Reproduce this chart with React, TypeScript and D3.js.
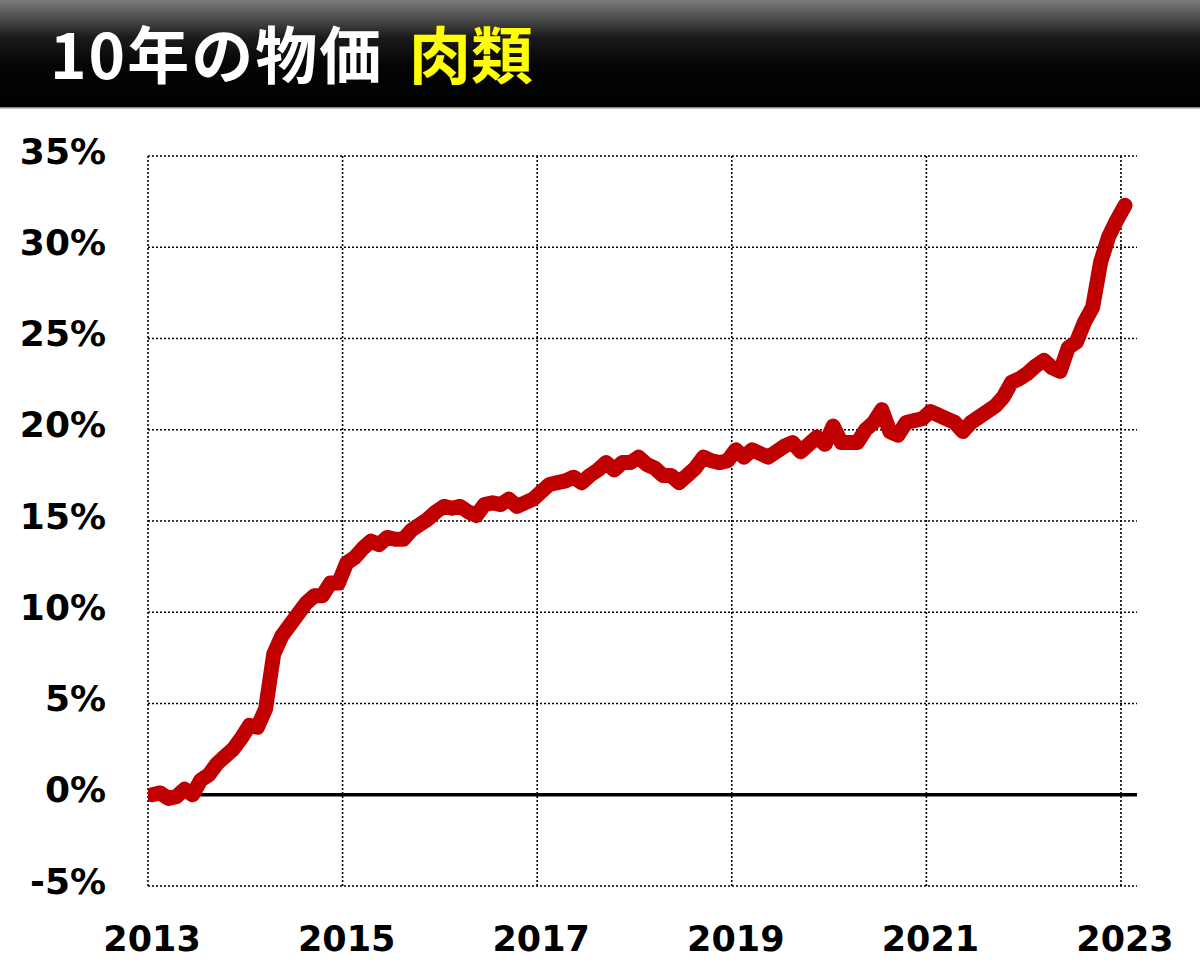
import React from "react";
import * as d3 from "d3";

const titleMain = "10年の物価";
const titleSub = "肉類";
const yTicks = [-5, 0, 5, 10, 15, 20, 25, 30, 35];
const yearLabels = ["2013", "2015", "2017", "2019", "2021", "2023"];
const yearMonthIndex = [0, 24, 48, 72, 96, 120];
// monthly change vs Jan 2013 (%), Jan 2013 .. Jan 2023
const meatValues = [
  0.0, 0.1, -0.2, -0.1, 0.3, 0.0, 0.8, 1.1, 1.7, 2.1, 2.5, 3.1,
  3.8, 3.7, 4.7, 7.7, 8.7, 9.3, 9.9, 10.5, 10.9, 10.9, 11.6, 11.6,
  12.7, 13.0, 13.5, 13.9, 13.7, 14.1, 14.0, 14.0, 14.5, 14.8, 15.1, 15.5,
  15.8, 15.7, 15.8, 15.5, 15.3, 15.9, 16.0, 15.9, 16.2, 15.8, 16.0, 16.2,
  16.6, 17.0, 17.1, 17.2, 17.4, 17.1, 17.5, 17.8, 18.2, 17.8, 18.2, 18.2,
  18.5, 18.1, 17.9, 17.5, 17.5, 17.1, 17.5, 17.9, 18.5, 18.3, 18.2, 18.3,
  18.9, 18.5, 18.9, 18.7, 18.5, 18.8, 19.1, 19.3, 18.8, 19.2, 19.6, 19.2,
  20.2, 19.3, 19.3, 19.3, 20.0, 20.4, 21.1, 19.9, 19.7, 20.4, 20.5, 20.6,
  21.0, 20.8, 20.6, 20.4, 19.9, 20.4, 20.7, 21.0, 21.3, 21.8, 22.6, 22.8,
  23.1, 23.5, 23.8, 23.4, 23.2, 24.5, 24.8, 25.9, 26.7, 29.2, 30.6, 31.5,
  32.3,
];

const W = 1200;
const H = 968;
const plotLeft = 148;
const plotRight = 1137;
const plotTop = 156;
const plotBottom = 886;

export default function App() {
  const x = d3.scaleLinear().domain([-0.5, 120.5]).range([plotLeft, plotLeft + 8.108 * 121]);
  const y = d3.scaleLinear().domain([-5, 35]).range([plotBottom, plotTop]);
  const line = d3
    .line<number>()
    .x((_, i) => x(i))
    .y((d) => y(d));
  const path = line(meatValues) || "";
  const labelFont = "'DejaVu Sans', Verdana, sans-serif";
  const cjkFont = "'Noto Sans CJK JP', 'Noto Sans', sans-serif";

  return (
    <div style={{ position: "absolute", left: 0, top: 0, width: W, height: H, background: "#fff" }}>
      <svg width={W} height={H} style={{ display: "block" }}>
        <defs>
          <linearGradient id="barGrad" x1="0" y1="0" x2="0" y2="1">
            <stop offset="0%" stopColor="#7c7c7c" />
            <stop offset="35%" stopColor="#1a1a1a" />
            <stop offset="60%" stopColor="#050505" />
            <stop offset="100%" stopColor="#000" />
          </linearGradient>
          <clipPath id="plotClip">
            <rect x={plotLeft} y={0} width={plotRight - plotLeft} height={H} />
          </clipPath>
        </defs>
        <rect x={0} y={0} width={W} height={108} fill="url(#barGrad)" />
        <rect x={0} y={107} width={W} height={1.5} fill="#8a8a8a" />
        <text x={50} y={79} fontFamily={cjkFont} fontWeight="bold" fontSize={62} letterSpacing={2} fill="#fff">
          {titleMain}
        </text>
        <text x={409} y={79} fontFamily={cjkFont} fontWeight="bold" fontSize={62} fill="#ffff00">
          {titleSub}
        </text>

        {/* horizontal gridlines */}
        {yTicks
          .filter((t) => t !== 0)
          .map((t) => (
            <line
              key={"h" + t}
              x1={plotLeft}
              x2={plotRight}
              y1={y(t)}
              y2={y(t)}
              stroke="#000"
              strokeWidth={1.6}
              strokeDasharray="2 2"
            />
          ))}
        {/* vertical gridlines */}
        {yearMonthIndex.map((m) => (
          <line
            key={"v" + m}
            x1={x(m - 0.5)}
            x2={x(m - 0.5)}
            y1={plotTop}
            y2={plotBottom}
            stroke="#000"
            strokeWidth={1.6}
            strokeDasharray="2 2"
          />
        ))}
        {/* zero line */}
        <line x1={plotLeft} x2={plotRight} y1={y(0)} y2={y(0)} stroke="#000" strokeWidth={3.5} />

        {/* y labels */}
        {yTicks.map((t) => (
          <text
            key={"yl" + t}
            x={106}
            y={y(t) + 7.5}
            textAnchor="end"
            fontFamily={labelFont}
            fontWeight="bold"
            fontSize={36}
            fill="#000"
          >
            {t + "%"}
          </text>
        ))}
        {/* x labels */}
        {yearMonthIndex.map((m, i) => (
          <text
            key={"xl" + m}
            x={x(m)}
            y={951}
            textAnchor="middle"
            fontFamily={labelFont}
            fontWeight="bold"
            fontSize={35}
            fill="#000"
          >
            {yearLabels[i]}
          </text>
        ))}

        <path
          d={path}
          fill="none"
          stroke="#c00000"
          strokeWidth={15}
          strokeLinejoin="round"
          strokeLinecap="round"
          clipPath="url(#plotClip)"
        />
      </svg>
    </div>
  );
}
